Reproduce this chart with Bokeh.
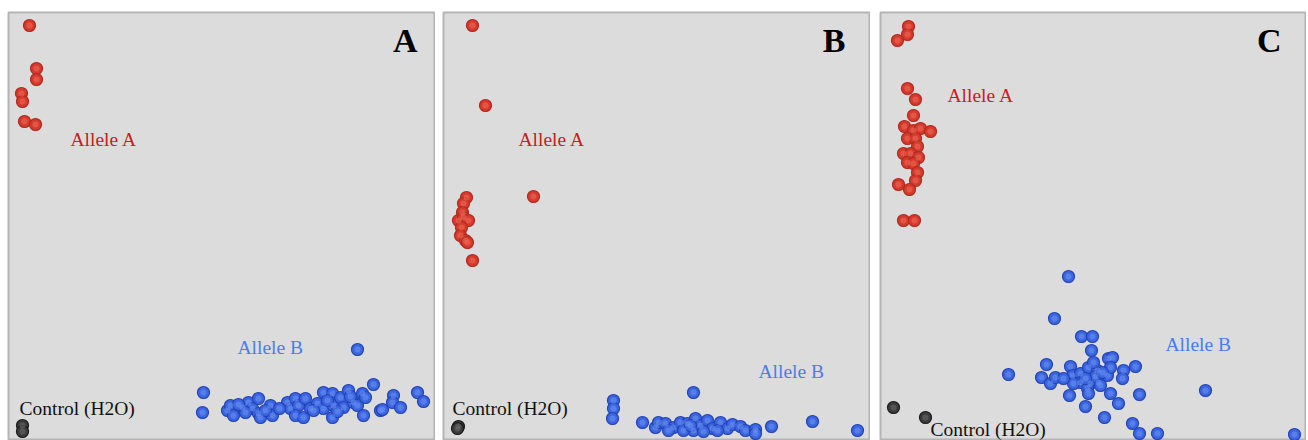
from bokeh.plotting import figure
from bokeh.layouts import row
from bokeh.models import ColumnDataSource, Range1d
from bokeh.core.properties import value
from bokeh.embed import file_html
from bokeh.resources import INLINE

# ---------------- data (arbitrary intensity units) ----------------
# Panel A
a_allele_a_x = [21, 28, 28, 13, 14, 16, 27]
a_allele_a_y = [415, 372, 361, 347, 339, 319, 316]
a_allele_b_x = [349, 195, 194, 219, 222, 225, 234, 240, 244, 250, 250, 252, 262, 264, 279, 282,
                287, 290, 287, 297, 295, 302, 309, 315, 315, 324, 325, 324, 332, 335, 340, 345,
                349, 354, 357, 355, 365, 372, 374, 385, 384, 392, 409, 415,
                271, 257, 305, 319, 329, 342, 237, 230]
a_allele_b_y = [91, 48, 28, 30, 35, 25, 33, 38, 32, 42, 27, 23, 35, 25, 38, 32,
                42, 35, 25, 42, 23, 32, 37, 48, 32, 47, 35, 23, 43, 33, 50, 38,
                35, 47, 43, 25, 56, 30, 31, 45, 38, 33, 48, 39,
                32, 30, 30, 40, 29, 44, 28, 36]
a_control_x = [14, 14]
a_control_y = [15, 9]

# Panel B
b_allele_a_x = [29, 42, 90, 23, 20, 19, 15, 20, 25, 18, 17, 22, 24, 29]
b_allele_a_y = [415, 335, 244, 243, 237, 228, 220, 223, 220, 213, 205, 200, 198, 180]
b_allele_b_x = [250, 170, 170, 169, 199, 212, 215, 222, 230, 237, 244, 252, 250, 257, 264, 269,
                277, 284, 289, 297, 302, 312, 312, 328, 369, 414, 225, 240, 260, 274, 247]
b_allele_b_y = [48, 40, 32, 22, 18, 13, 18, 17, 13, 18, 17, 22, 10, 15, 20, 12,
                18, 12, 16, 14, 10, 11, 7, 14, 19, 10, 10, 10, 9, 10, 15]
b_control_x = [15, 14]
b_control_y = [14, 12]

# Panel C
c_allele_a_x = [28, 27, 17, 27, 35, 33, 24, 33, 40, 50, 27, 35, 37, 23, 30, 38, 27, 33, 37, 35,
                29, 18, 23, 34]
c_allele_a_y = [414, 406, 400, 352, 341, 325, 314, 310, 312, 309, 302, 302, 294, 287, 287, 283,
                278, 277, 268, 260, 251, 256, 220, 220]
c_allele_b_x = [188, 174, 201, 212, 211, 128, 166, 161, 170, 175, 190, 192, 200, 208, 217, 210,
                218, 227, 228, 232, 230, 200, 193, 207, 243, 242, 255, 189, 208, 230, 259, 205,
                238, 224, 252, 259, 277, 325, 414, 215, 222, 205, 220, 183, 213]
c_allele_b_y = [164, 122, 104, 104, 90, 66, 76, 63, 57, 63, 74, 65, 67, 73, 70, 57,
                58, 65, 82, 83, 73, 58, 57, 52, 70, 62, 74, 45, 47, 47, 46, 34,
                37, 23, 17, 7, 7, 50, 6, 64, 68, 62, 55, 62, 78]
c_control_x = [13, 45]
c_control_y = [33, 23]

panel_letters = ["A", "B", "C"]
label_allele_a = "Allele A"
label_allele_b = "Allele B"
label_control = "Control (H2O)"

# label anchor positions per panel (data units)
allele_a_label_pos = [(62, 301), (75, 301), (67, 345)]
allele_b_label_pos = [(229, 93), (315, 69), (285, 96)]
control_label_pos = [(11, 32), (9, 32), (50, 11)]
letter_pos = [(409, 400), (402, 400), (401, 400)]

# ---------------- styling ----------------
RED = dict(fill="#d63a2c", line="#b02a20", hi="#ee6c5a")
BLUE = dict(fill="#3b66e0", line="#2443b8", hi="#6d93f2")
DARK = dict(fill="#3c3c3c", line="#1c1c1c", hi="#6a6a6a")
SERIF = value("Liberation Serif")

panels = [
    (a_allele_a_x, a_allele_a_y, a_allele_b_x, a_allele_b_y, a_control_x, a_control_y),
    (b_allele_a_x, b_allele_a_y, b_allele_b_x, b_allele_b_y, b_control_x, b_control_y),
    (c_allele_a_x, c_allele_a_y, c_allele_b_x, c_allele_b_y, c_control_x, c_control_y),
]
frame_widths = [427, 427, 426]
left_borders = [8, 8, 10]


def dots(p, xs, ys, col):
    src = ColumnDataSource(dict(x=xs, y=ys))
    p.scatter("x", "y", source=src, size=12, fill_color=col["fill"],
              line_color=col["line"], line_width=1.2)
    return src


figs = []
for i, (ax, ay, bx, by, cx, cy) in enumerate(panels):
    p = figure(width=frame_widths[i] + left_borders[i], height=440,
               x_range=Range1d(0, frame_widths[i]), y_range=Range1d(0, 428),
               x_axis_type=None, y_axis_type=None, toolbar_location=None,
               output_backend="svg")
    p.min_border = 0
    p.min_border_left = left_borders[i]
    p.min_border_top = 12
    p.min_border_right = 0
    p.min_border_bottom = 0
    p.grid.visible = False
    p.background_fill_color = "#dcdcdc"
    p.border_fill_color = "white"
    p.outline_line_color = "#b4b4b4"
    p.outline_line_width = 2

    groups = [(ax, ay, RED), (bx, by, BLUE), (cx, cy, DARK)]
    srcs = [dots(p, x, y, c) for x, y, c in groups]
    for s, (_, _, c) in zip(srcs, groups):
        p.scatter("x", "y", source=s, size=6, fill_color=c["hi"], fill_alpha=0.55,
                  line_color=None)

    tx, ty = allele_a_label_pos[i]
    p.text(x=[tx], y=[ty], text=[label_allele_a], text_font=SERIF, text_font_size="19.5px",
           text_color="#c81e1e", text_align="left", text_baseline="alphabetic")
    tx, ty = allele_b_label_pos[i]
    p.text(x=[tx], y=[ty], text=[label_allele_b], text_font=SERIF, text_font_size="19.5px",
           text_color="#4a7cf0", text_align="left", text_baseline="alphabetic")
    tx, ty = control_label_pos[i]
    p.text(x=[tx], y=[ty], text=[label_control], text_font=SERIF, text_font_size="19.5px",
           text_color="#111111", text_align="left", text_baseline="alphabetic")
    tx, ty = letter_pos[i]
    p.text(x=[tx], y=[ty], text=[panel_letters[i]], text_font=SERIF, text_font_size="34px",
           text_font_style="bold", text_color="#000000", text_align="right",
           text_baseline="alphabetic")
    figs.append(p)

layout = row(*figs)
open("out.html", "w").write(file_html(layout, INLINE))
